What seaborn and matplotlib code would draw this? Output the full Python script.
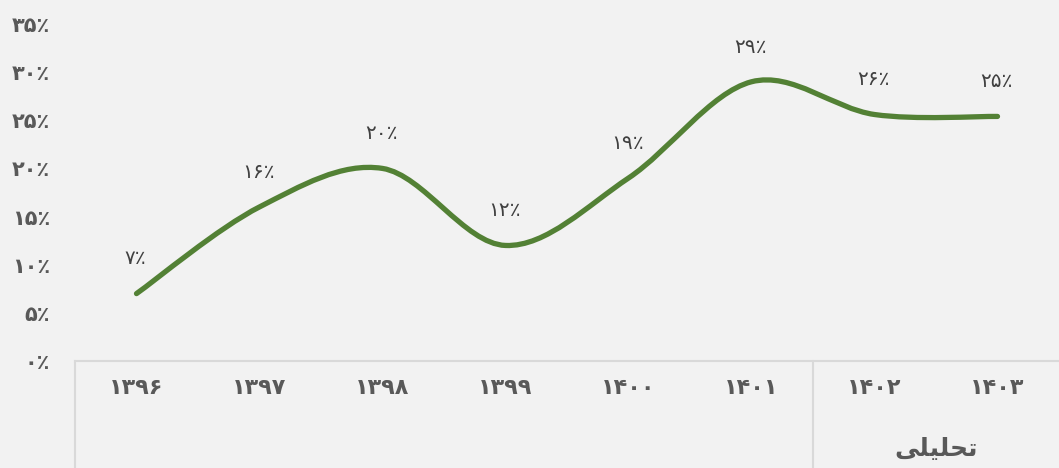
import matplotlib
matplotlib.use("Agg")
import matplotlib.pyplot as plt
from matplotlib.path import Path
from matplotlib.patches import PathPatch
import seaborn as sns

# chart data
years = ["۱۳۹۶", "۱۳۹۷", "۱۳۹۸", "۱۳۹۹", "۱۴۰۰", "۱۴۰۱", "۱۴۰۲", "۱۴۰۳"]
growth = [7, 16, 20, 12, 19, 29, 25.6, 25.4]
y_ticks = [0, 5, 10, 15, 20, 25, 30, 35]
group_label = "\uFEF0\uFEE0\uFEF4\uFEE0\uFEA4\uFE97"  # تحلیلی, pre-shaped for display

PERSIAN = str.maketrans("0123456789", "۰۱۲۳۴۵۶۷۸۹")


def fa_pct(v):
    return str(int(round(v))).translate(PERSIAN) + "٪"


sns.set_theme(style="white")
plt.rcParams["font.family"] = ["DejaVu Sans"]

bg = "#f2f2f2"
fig = plt.figure(figsize=(10.59, 4.68), dpi=100, facecolor=bg)
ax = fig.add_axes([75 / 1059, 107 / 468, 984 / 1059, 337 / 468])
ax.set_facecolor(bg)

xs = list(range(len(years)))

# smoothed line like Excel (Catmull-Rom as cubic Bezier)
verts = [(xs[0], growth[0])]
codes = [Path.MOVETO]
n = len(xs)
for i in range(n - 1):
    p0 = (xs[max(i - 1, 0)], growth[max(i - 1, 0)])
    p1 = (xs[i], growth[i])
    p2 = (xs[i + 1], growth[i + 1])
    p3 = (xs[min(i + 2, n - 1)], growth[min(i + 2, n - 1)])
    c1 = (p1[0] + (p2[0] - p0[0]) / 6, p1[1] + (p2[1] - p0[1]) / 6)
    c2 = (p2[0] - (p3[0] - p1[0]) / 6, p2[1] - (p3[1] - p1[1]) / 6)
    verts += [c1, c2, p2]
    codes += [Path.CURVE4] * 3
ax.add_patch(PathPatch(Path(verts, codes), facecolor="none", edgecolor="#538135",
                       lw=3.8, capstyle="round", joinstyle="round", zorder=3))

# data labels
for x, v in zip(xs, growth):
    ax.annotate(fa_pct(v), (x, v), xytext=(-1, 25), textcoords="offset points",
                ha="center", va="center", fontsize=14.5, color="#404040")

ax.set_xlim(-0.5, len(years) - 0.5)
ax.set_ylim(0, 35)
ax.set_yticks(y_ticks)
ax.set_yticklabels([fa_pct(t) for t in y_ticks], fontsize=15, fontweight="bold",
                   color="#595959")
ax.set_xticks(xs)
ax.set_xticklabels(years, fontsize=16, fontweight="bold", color="#595959")
ax.tick_params(axis="x", length=0, pad=12)
ax.tick_params(axis="y", length=0, pad=18)
for lab in ax.get_yticklabels():
    lab.set_horizontalalignment("right")

for s in ["top", "right", "left"]:
    ax.spines[s].set_visible(False)
ax.spines["bottom"].set_color("#d9d9d9")
ax.spines["bottom"].set_linewidth(1.5)

# multi-level category axis box
trans = ax.get_xaxis_transform()
for xv in [-0.5, 5.5]:
    ax.plot([xv, xv], [0, -0.5], transform=trans, color="#d9d9d9", lw=1.5,
            clip_on=False)
ax.text(6.5, -0.26, group_label, transform=trans, ha="center", va="center",
        fontsize=18, fontweight="bold", color="#595959")

fig.savefig("out.png", dpi=100, facecolor=bg)
